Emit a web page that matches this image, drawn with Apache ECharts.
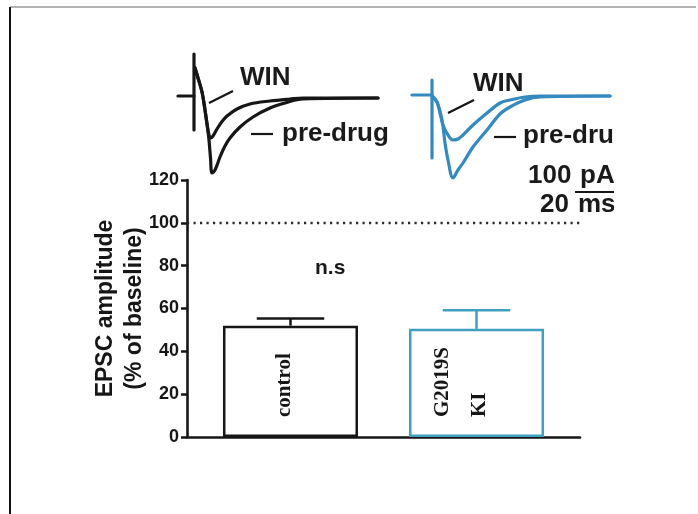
<!DOCTYPE html>
<html>
<head>
<meta charset="utf-8">
<title>EPSC amplitude after WIN</title>
<script src="https://cdn.jsdelivr.net/npm/echarts@6/dist/echarts.min.js"></script>
<style>
  html, body { margin: 0; padding: 0; background: #fff; }
  #chart { width: 698px; height: 514px; }
</style>
</head>
<body>
<div id="chart"></div>
<script>
// ---- bar summary: EPSC amplitude after WIN (% of baseline) ----
const groups = ['control', 'G2019S\nKI'];
const means = [52, 50.5];
const sems = [3.3, 8.7];
const baselineLevel = 100;
const yMin = 0, yMax = 120, yStep = 20;

// ---- example traces (time in ms from stimulus, current in pA) ----
const ctrlStub = [[-8, 0], [0, 0]];
const ctrlArtifact = [[0, 84], [0, -68]];
const ctrlWin = [
  [0.5, 56], [2, 36], [4, 8], [5.5, -28], [6.5, -56], [7.5, -78], [8.3, -84],
  [9.5, -80], [11.5, -66], [14, -51], [16.5, -40], [21.5, -26], [28, -16],
  [38, -10], [48, -6], [54.5, -4], [92, -4]
];
const ctrlPre = [
  [0.5, 56], [2, 36], [4, 8], [5.5, -28], [6.5, -56], [7.5, -88], [8.25, -124],
  [9, -154], [10.5, -148], [13, -122], [15.5, -100], [18, -84], [23, -62],
  [29.5, -42], [38, -24], [45.5, -14], [54.5, -6], [92, -4]
];
const kiStub = [[-10, 2], [0, 2]];
const kiArtifact = [[0, 32], [0, -124]];
const kiWin = [
  [0, 0], [2.5, -12], [4, -34], [5.5, -58], [8, -78], [10.5, -88], [13, -86],
  [15.5, -78], [20.5, -58], [27.5, -34], [34, -14], [39, -8], [46.5, -2],
  [54, 0], [89, 0]
];
const kiPre = [
  [0, 0], [2.5, -12], [5, -48], [6.5, -94], [8, -128], [10.5, -164], [13, -148],
  [15.5, -134], [20.5, -102], [27.5, -68], [34, -36], [39, -22], [46.5, -8],
  [54, -2], [89, 0]
];

const INK = '#161616';
const KI_BAR = '#3fa1bf';
const KI_TRACE = '#3489c1';
const barColors = [INK, KI_BAR];
const BAR_W = 135;
const BAR_SPACE = 51;
const SANS = '"Liberation Sans", Arial, sans-serif';
const SERIF = '"Liberation Serif", "Times New Roman", serif';

const chart = echarts.init(document.getElementById('chart'), null, { renderer: 'canvas' });

function traceAxisX(i) {
  return { type: 'value', gridIndex: i, min: -10, max: 95, show: false };
}
function traceAxisY(i) {
  return { type: 'value', gridIndex: i, min: -200, max: 100, show: false };
}
function traceLine(data, grid, color, smooth) {
  return {
    type: 'line', xAxisIndex: grid, yAxisIndex: grid, data: data,
    showSymbol: false, silent: true, smooth: smooth,
    lineStyle: { color: color, width: 3.2, join: 'round', cap: 'round' }, z: 3
  };
}

// label shift across the bar (rotated frame: +y points right on screen)
const labelShift = [-6, -15];

const barSeries = groups.map((g, i) => ({
  type: 'bar',
  name: g,
  xAxisIndex: 0,
  yAxisIndex: 0,
  barWidth: BAR_W,
  barGap: (BAR_SPACE / BAR_W * 100).toFixed(1) + '%',
  itemStyle: { color: '#fff', borderColor: barColors[i], borderWidth: 2.5 },
  data: [means[i]],
  label: {
    show: true,
    formatter: g,
    position: 'insideBottom',
    distance: 20,
    rotate: 90,
    align: 'left',
    verticalAlign: 'middle',
    offset: [0, labelShift[i]],
    fontFamily: SERIF,
    fontWeight: 'bold',
    fontSize: 21,
    lineHeight: 37,
    color: INK
  },
  markLine: i === 0 ? {
    silent: true,
    symbol: 'none',
    label: { show: false },
    lineStyle: { type: [2.2, 4.3], width: 2.4, color: '#2a2a2a' },
    data: [{ yAxis: baselineLevel }]
  } : undefined,
  z: 2
}));

const errorSeries = {
  type: 'custom',
  xAxisIndex: 0,
  yAxisIndex: 0,
  silent: true,
  data: means.map((m, i) => [0, m, m + sems[i], i]),
  renderItem: function (params, api) {
    const i = api.value(3);
    const base = api.coord([0, api.value(1)]);
    const top = api.coord([0, api.value(2)]);
    const cx = base[0] + (i - (groups.length - 1) / 2) * (BAR_W + BAR_SPACE);
    const st = { stroke: barColors[i], lineWidth: 2.5 };
    return {
      type: 'group',
      children: [
        { type: 'line', shape: { x1: cx, y1: base[1], x2: cx, y2: top[1] }, style: st },
        { type: 'line', shape: { x1: cx - BAR_W / 4, y1: top[1], x2: cx + BAR_W / 4, y2: top[1] }, style: st }
      ]
    };
  },
  z: 4
};

function annText(text, x, y, size) {
  return {
    type: 'text', x: x, y: y, z: 50,
    style: {
      text: text, fill: '#1a1a1a', fontFamily: SANS, fontWeight: 'bold',
      fontSize: size, align: 'left', verticalAlign: 'middle'
    }
  };
}
function annLine(x1, y1, x2, y2, color, w) {
  return {
    type: 'line', z: 50,
    shape: { x1: x1, y1: y1, x2: x2, y2: y2 },
    style: { stroke: color, lineWidth: w }
  };
}

const option = {
  backgroundColor: '#fff',
  animation: false,
  grid: [
    { left: 187, top: 180, width: 393, height: 257, containLabel: false },
    { left: 174, top: 46, width: 210, height: 150 },
    { left: 412, top: 46, width: 210, height: 150 }
  ],
  xAxis: [
    {
      type: 'category', gridIndex: 0, data: ['EPSC'],
      axisLine: { show: true, lineStyle: { color: INK, width: 2.6 } },
      axisTick: { show: false },
      axisLabel: { show: false },
      splitLine: { show: false }
    },
    traceAxisX(1),
    traceAxisX(2)
  ],
  yAxis: [
    {
      type: 'value', gridIndex: 0, min: yMin, max: yMax, interval: yStep,
      name: 'EPSC amplitude\n(% of baseline)',
      nameLocation: 'middle',
      nameRotate: 90,
      nameGap: 38,
      nameMoveOverlap: false,
      nameTextStyle: {
        fontFamily: SANS, fontWeight: 'bold', fontSize: 23, lineHeight: 29, color: INK
      },
      axisLine: { show: true, lineStyle: { color: INK, width: 2.6 } },
      axisTick: { show: true, length: 6, lineStyle: { color: INK, width: 2.5 } },
      axisLabel: {
        margin: 8, fontFamily: SANS, fontWeight: 'bold', fontSize: 18, color: INK
      },
      splitLine: { show: false }
    },
    traceAxisY(1),
    traceAxisY(2)
  ],
  series: [
    ...barSeries,
    errorSeries,
    traceLine(ctrlStub, 1, INK, false),
    traceLine(ctrlArtifact, 1, INK, false),
    traceLine(ctrlWin, 1, INK, 0.35),
    traceLine(ctrlPre, 1, INK, 0.35),
    traceLine(kiStub, 2, KI_TRACE, false),
    traceLine(kiArtifact, 2, KI_TRACE, false),
    traceLine(kiWin, 2, KI_TRACE, 0.35),
    traceLine(kiPre, 2, KI_TRACE, 0.35)
  ],
  graphic: [
    // trace annotations
    annText('WIN', 240, 78, 26),
    annLine(209, 103, 233, 91, INK, 2.2),
    annText('pre-drug', 282, 134, 26),
    annLine(251, 134, 273, 134, INK, 2.2),
    annText('WIN', 473, 84, 26),
    annLine(448, 113, 474, 100, INK, 2.2),
    annText('pre-drug', 523, 136, 26),
    annLine(494, 137, 516, 137, INK, 2.2),
    // scale bar
    annText('100', 528, 176, 26),
    annText('pA', 580, 176, 26),
    annLine(575, 192, 625, 192, INK, 2),
    annText('20', 540, 205, 26),
    annText('ms', 578, 205, 26),
    // significance
    annText('n.s', 315, 268, 21),
    // panel cut at the right edge
    { type: 'rect', z: 100, shape: { x: 614, y: 40, width: 76, height: 190 }, style: { fill: '#fff' } },
    // frame
    annLine(10, 7, 696, 7, '#9a9a9a', 1.5),
    annLine(10, 7, 10, 514, '#111', 2)
  ]
};

chart.setOption(option);
</script>
</body>
</html>
